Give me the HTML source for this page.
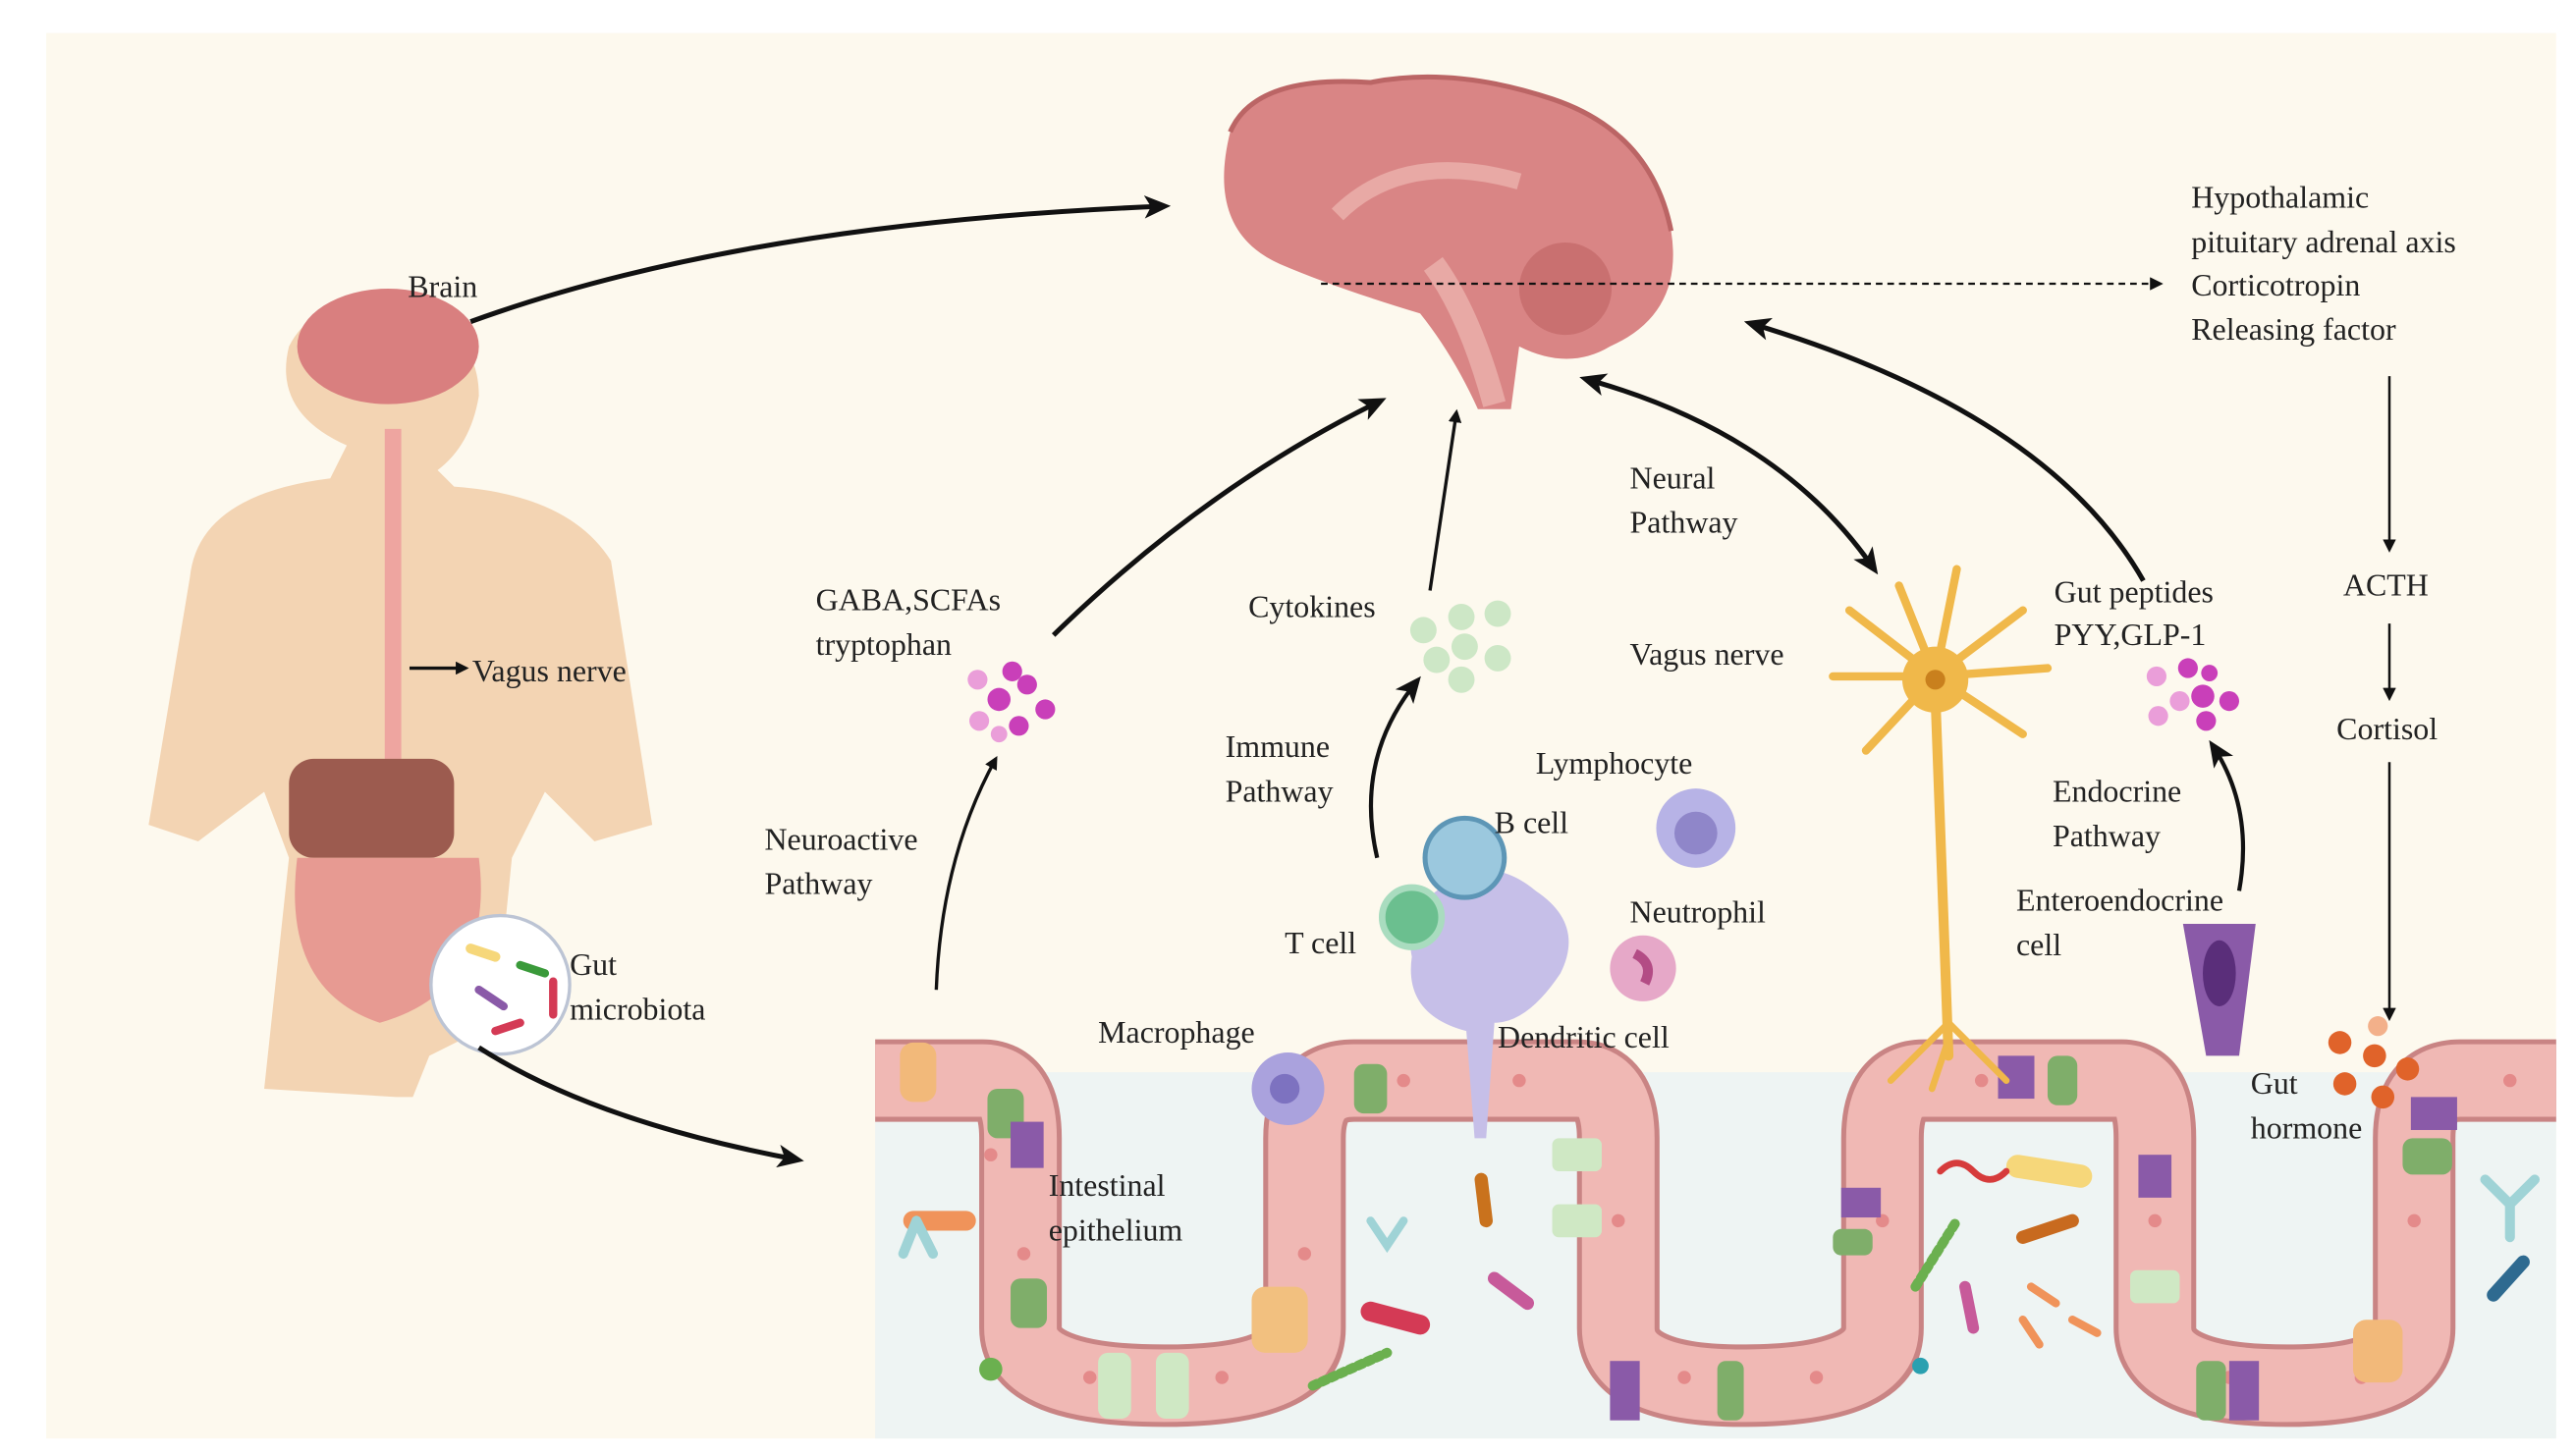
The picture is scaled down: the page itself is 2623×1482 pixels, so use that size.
<!DOCTYPE html>
<html><head><meta charset="utf-8"><style>
html,body{margin:0;padding:0;background:#fff;}
svg{display:block;}
text{font-family:"Liberation Serif",serif;font-size:19px;fill:#222;}
</style></head><body>
<svg width="2623" height="1482" viewBox="0 0 1560 882" preserveAspectRatio="none" xmlns="http://www.w3.org/2000/svg">
<defs>
<marker id="ah" markerWidth="8" markerHeight="8" refX="6" refY="4" orient="auto" markerUnits="userSpaceOnUse"><path d="M0,0 L8,4 L0,8 Z" fill="#111"/></marker>
<marker id="ab" markerWidth="16" markerHeight="14" refX="12" refY="7" orient="auto" markerUnits="userSpaceOnUse"><path d="M0,0 L16,7 L0,14 L4,7 Z" fill="#111"/></marker>
<marker id="abs" markerWidth="16" markerHeight="14" refX="4" refY="7" orient="auto-start-reverse" markerUnits="userSpaceOnUse"><path d="M0,0 L16,7 L0,14 L4,7 Z" fill="#111"/></marker>
</defs>
<rect x="28" y="20" width="1520" height="852" fill="#fdf9ee"/>
<rect x="530" y="650" width="1018" height="222" fill="#eef4f3"/>
<path d="M530,655 L595,655 Q618,655 618,690 L618,805 Q618,840 705,840 Q790,840 790,805 L790,690 Q790,655 820,655 L955,655 Q980,655 980,690 L980,805 Q980,840 1055,840 Q1140,840 1140,805 L1140,690 Q1140,655 1165,655 L1285,655 Q1305,655 1305,690 L1305,805 Q1305,840 1385,840 Q1462,840 1462,805 L1462,690 Q1462,655 1490,655 L1548,655" fill="none" stroke="#c98484" stroke-width="50"/>
<path d="M530,655 L595,655 Q618,655 618,690 L618,805 Q618,840 705,840 Q790,840 790,805 L790,690 Q790,655 820,655 L955,655 Q980,655 980,690 L980,805 Q980,840 1055,840 Q1140,840 1140,805 L1140,690 Q1140,655 1165,655 L1285,655 Q1305,655 1305,690 L1305,805 Q1305,840 1385,840 Q1462,840 1462,805 L1462,690 Q1462,655 1490,655 L1548,655" fill="none" stroke="#f0b8b4" stroke-width="44"/>
<g fill="#e48a8a">
<circle cx="560" cy="660" r="4"/><circle cx="600" cy="700" r="4"/><circle cx="620" cy="760" r="4"/><circle cx="660" cy="835" r="4"/><circle cx="740" cy="835" r="4"/><circle cx="790" cy="760" r="4"/><circle cx="850" cy="655" r="4"/><circle cx="920" cy="655" r="4"/><circle cx="980" cy="740" r="4"/><circle cx="1020" cy="835" r="4"/><circle cx="1100" cy="835" r="4"/><circle cx="1140" cy="740" r="4"/><circle cx="1200" cy="655" r="4"/><circle cx="1305" cy="740" r="4"/><circle cx="1350" cy="835" r="4"/><circle cx="1430" cy="835" r="4"/><circle cx="1462" cy="740" r="4"/><circle cx="1520" cy="655" r="4"/>
</g>
<g>
<rect x="598" y="660" width="22" height="30" rx="6" fill="#7fae6a"/><rect x="612" y="775" width="22" height="30" rx="6" fill="#7fae6a"/>
<rect x="820" y="645" width="20" height="30" rx="6" fill="#7fae6a"/><rect x="612" y="680" width="20" height="28" fill="#8a5aa8"/>
<rect x="940" y="690" width="30" height="20" rx="4" fill="#cfe8c4"/><rect x="940" y="730" width="30" height="20" rx="4" fill="#cfe8c4"/>
<rect x="1240" y="640" width="18" height="30" rx="6" fill="#7fae6a"/><rect x="1210" y="640" width="22" height="26" fill="#8a5aa8"/>
<rect x="1290" y="770" width="30" height="20" rx="4" fill="#cfe8c4"/><rect x="1295" y="700" width="20" height="26" fill="#8a5aa8"/>
<rect x="1460" y="665" width="28" height="20" fill="#8a5aa8"/><rect x="1455" y="690" width="30" height="22" rx="6" fill="#7fae6a"/>
<rect x="1115" y="720" width="24" height="18" fill="#8a5aa8"/><rect x="1110" y="745" width="24" height="16" rx="5" fill="#7fae6a"/>
<rect x="545" y="632" width="22" height="36" rx="8" fill="#f2b97a"/><rect x="1425" y="800" width="30" height="38" rx="8" fill="#f2b97a"/><rect x="758" y="780" width="34" height="40" rx="8" fill="#f2c07f"/>
<rect x="665" y="820" width="20" height="40" rx="6" fill="#cfe8c4"/><rect x="700" y="820" width="20" height="40" rx="6" fill="#cfe8c4"/>
<rect x="975" y="825" width="18" height="36" fill="#8a5aa8"/><rect x="1040" y="825" width="16" height="36" rx="5" fill="#7fae6a"/>
<rect x="1330" y="825" width="18" height="36" rx="5" fill="#7fae6a"/><rect x="1350" y="825" width="18" height="36" fill="#8a5aa8"/>
</g>
<g stroke-linecap="round" fill="none">
<line x1="553" y1="740" x2="585" y2="740" stroke="#f0935a" stroke-width="12"/>
<line x1="830" y1="795" x2="860" y2="803" stroke="#d43a55" stroke-width="12"/>
<line x1="897" y1="715" x2="900" y2="740" stroke="#c9721d" stroke-width="8"/>
<line x1="1222" y1="707" x2="1260" y2="713" stroke="#f6d77a" stroke-width="14"/>
<line x1="1225" y1="750" x2="1255" y2="740" stroke="#c86a1f" stroke-width="8"/>
<line x1="1160" y1="780" x2="1185" y2="740" stroke="#6bb04f" stroke-width="6" stroke-dasharray="3 3"/>
<line x1="795" y1="840" x2="840" y2="820" stroke="#6bb04f" stroke-width="6" stroke-dasharray="3 3"/>
<line x1="1510" y1="785" x2="1528" y2="765" stroke="#2e6a90" stroke-width="8"/>
<path d="M1175,710 q10,-10 20,0 t20,0" stroke="#d63b3b" stroke-width="4"/>
<line x1="905" y1="775" x2="925" y2="790" stroke="#c75a9a" stroke-width="8"/>
<line x1="1190" y1="780" x2="1195" y2="805" stroke="#c75a9a" stroke-width="7"/>
<line x1="1230" y1="780" x2="1245" y2="790" stroke="#f0935a" stroke-width="5"/><line x1="1225" y1="800" x2="1235" y2="815" stroke="#f0935a" stroke-width="5"/><line x1="1255" y1="800" x2="1270" y2="808" stroke="#f0935a" stroke-width="5"/>
<path d="M555,740 l10,20 m-10,-20 l-8,20" stroke="#9fd3d6" stroke-width="6"/>
<path d="M1505,715 l15,15 l15,-15 m-15,15 v20" stroke="#9fd3d6" stroke-width="6"/>
<path d="M830,740 l10,15 l10,-15" stroke="#9fd3d6" stroke-width="5"/>
</g>
<circle cx="600" cy="830" r="7" fill="#6bb04f"/>
<circle cx="1163" cy="828" r="5" fill="#2aa0b0"/>
<path d="M745,80 Q760,45 830,50 Q880,40 940,60 Q1000,80 1012,140 Q1020,190 975,210 Q950,225 920,210 L915,248 L895,248 Q880,215 860,190 Q810,175 775,160 Q730,140 745,80 Z" fill="#d98585"/>
<path d="M745,80 Q760,45 830,50 Q880,40 940,60 Q1000,80 1012,140" fill="none" stroke="#bb6565" stroke-width="3"/>
<path d="M810,130 Q850,90 920,110" fill="none" stroke="#e8a9a5" stroke-width="10"/>
<circle cx="948" cy="175" r="28" fill="#c97070"/>
<path d="M868,160 Q890,190 905,245" fill="none" stroke="#e8a9a5" stroke-width="14"/>
<path d="M160,660 L175,520 L160,480 L120,510 L90,500 L115,350 Q120,300 200,290 L210,270 Q165,250 175,210 Q190,180 235,185 Q290,195 290,240 Q285,270 265,285 L275,295 Q345,300 370,340 L395,500 L360,510 L330,480 L310,520 L300,620 L260,640 L250,665 L240,665 Z" fill="#f3d4b3"/>
<ellipse cx="235" cy="210" rx="55" ry="35" fill="#d97f7f"/>
<rect x="233" y="260" width="10" height="200" fill="#eea5a0"/>
<rect x="175" y="460" width="100" height="60" rx="15" fill="#9c5b4f"/>
<path d="M180,520 Q170,600 230,620 Q300,600 290,520 Z" fill="#e79a92"/>
<circle cx="303" cy="597" r="42" fill="#fff" stroke="#bcc4d4" stroke-width="2"/>
<g stroke-linecap="round"><line x1="285" y1="575" x2="300" y2="580" stroke="#f6d77a" stroke-width="6"/><line x1="290" y1="600" x2="305" y2="610" stroke="#8a5aa8" stroke-width="5"/><line x1="315" y1="585" x2="330" y2="590" stroke="#3a9a3a" stroke-width="5"/><line x1="300" y1="625" x2="315" y2="620" stroke="#d43a55" stroke-width="5"/><line x1="335" y1="595" x2="335" y2="615" stroke="#d43a55" stroke-width="5"/></g>
<g stroke="#f0b84a" fill="none" stroke-linecap="round">
<path d="M1172,420 L1180,640" stroke-width="6"/>
<path d="M1172,410 L1120,370 M1172,410 L1110,410 M1172,410 L1130,455 M1172,410 L1150,355 M1172,410 L1185,345 M1172,410 L1225,370 M1172,410 L1240,405 M1172,410 L1225,445" stroke-width="5"/>
<path d="M1180,620 L1145,655 M1180,620 L1215,655 M1180,630 L1170,660" stroke-width="4"/>
</g>
<circle cx="1172" cy="412" r="20" fill="#f0b84a"/><circle cx="1172" cy="412" r="6" fill="#c9801d"/>
<path d="M870,540 Q900,515 930,540 Q960,560 945,590 Q925,620 905,620 L900,690 L893,690 L888,625 Q850,615 855,580 Q850,555 870,540 Z" fill="#c6bfe8"/>
<circle cx="887" cy="520" r="24" fill="#9bc8de" stroke="#5d96b6" stroke-width="3"/>
<circle cx="855" cy="556" r="18" fill="#6bbf8f" stroke="#a9dcbf" stroke-width="4"/>
<circle cx="1027" cy="502" r="24" fill="#b7b3e6"/><circle cx="1027" cy="505" r="13" fill="#8f86c9"/>
<circle cx="995" cy="587" r="20" fill="#e6a8c8"/><path d="M990,578 q12,6 6,18" stroke="#b34c85" stroke-width="6" fill="none"/>
<circle cx="780" cy="660" r="22" fill="#aaa2dd"/><circle cx="778" cy="660" r="9" fill="#7d72c0"/>
<path d="M1322,560 L1366,560 L1356,640 L1336,640 Z" fill="#8a5aa8"/><ellipse cx="1344" cy="590" rx="10" ry="20" fill="#5a2e7a"/>
<g fill="#c93fb9"><circle cx="605" cy="424" r="7"/><circle cx="622" cy="415" r="6"/><circle cx="633" cy="430" r="6"/><circle cx="617" cy="440" r="6"/><circle cx="613" cy="407" r="6"/></g>
<g fill="#ea9ed9"><circle cx="592" cy="412" r="6"/><circle cx="593" cy="437" r="6"/><circle cx="605" cy="445" r="5"/></g>
<g fill="#c93fb9"><circle cx="1334" cy="422" r="7"/><circle cx="1350" cy="425" r="6"/><circle cx="1336" cy="437" r="6"/><circle cx="1325" cy="405" r="6"/><circle cx="1338" cy="408" r="5"/></g>
<g fill="#ea9ed9"><circle cx="1306" cy="410" r="6"/><circle cx="1307" cy="434" r="6"/><circle cx="1320" cy="425" r="6"/></g>
<g fill="#cde7c6"><circle cx="862" cy="382" r="8"/><circle cx="885" cy="374" r="8"/><circle cx="907" cy="372" r="8"/><circle cx="870" cy="400" r="8"/><circle cx="887" cy="392" r="8"/><circle cx="907" cy="399" r="8"/><circle cx="885" cy="412" r="8"/></g>
<g fill="#e0632a"><circle cx="1417" cy="632" r="7"/><circle cx="1438" cy="640" r="7"/><circle cx="1458" cy="648" r="7"/><circle cx="1420" cy="657" r="7"/><circle cx="1443" cy="665" r="7"/></g>
<circle cx="1440" cy="622" r="6" fill="#f3b08a"/>
<g fill="none" stroke="#111">
<path d="M285,195 Q450,135 705,125" stroke-width="3" marker-end="url(#ab)"/>
<path d="M290,635 Q360,680 483,703" stroke-width="3" marker-end="url(#ab)"/>
<path d="M638,385 Q730,295 836,243" stroke-width="3" marker-end="url(#ab)"/>
<path d="M567,600 Q570,520 603,460" stroke-width="2" marker-end="url(#ah)"/>
<path d="M866,358 L882,250" stroke-width="2" marker-end="url(#ah)"/>
<path d="M834,520 Q820,460 858,413" stroke-width="2.5" marker-end="url(#ab)"/>
<path d="M968,232 Q1080,265 1135,345" stroke-width="3" marker-start="url(#abs)" marker-end="url(#ab)"/>
<path d="M1298,352 Q1240,250 1060,196" stroke-width="3" marker-end="url(#ab)"/>
<path d="M1356,540 Q1365,490 1340,452" stroke-width="2.5" marker-end="url(#ab)"/>
<path d="M800,172 L1308,172" stroke-width="1.3" stroke-dasharray="4 3" marker-end="url(#ah)"/>
<path d="M1447,228 L1447,333" stroke-width="1.5" marker-end="url(#ah)"/>
<path d="M1447,378 L1447,423" stroke-width="1.5" marker-end="url(#ah)"/>
<path d="M1447,462 L1447,617" stroke-width="1.5" marker-end="url(#ah)"/>
<path d="M248,405 L282,405" stroke-width="2" marker-end="url(#ah)"/>
</g>
<g font-family="Liberation Serif" font-size="19">
<text x="247" y="180">Brain</text>
<text x="286" y="413">Vagus nerve</text>
<text x="345" y="591">Gut</text><text x="345" y="618">microbiota</text>
<text x="494" y="370">GABA,SCFAs</text><text x="494" y="397">tryptophan</text>
<text x="463" y="515">Neuroactive</text><text x="463" y="542">Pathway</text>
<text x="756" y="374">Cytokines</text>
<text x="742" y="459">Immune</text><text x="742" y="486">Pathway</text>
<text x="930" y="469">Lymphocyte</text>
<text x="905" y="505">B cell</text>
<text x="987" y="559">Neutrophil</text>
<text x="778" y="578">T cell</text>
<text x="665" y="632">Macrophage</text>
<text x="907" y="635">Dendritic cell</text>
<text x="635" y="725">Intestinal</text><text x="635" y="752">epithelium</text>
<text x="987" y="296">Neural</text><text x="987" y="323">Pathway</text>
<text x="987" y="403">Vagus nerve</text>
<text x="1244" y="365">Gut peptides</text><text x="1244" y="391">PYY,GLP-1</text>
<text x="1243" y="486">Endocrine</text><text x="1243" y="513">Pathway</text>
<text x="1221" y="552">Enteroendocrine</text><text x="1221" y="579">cell</text>
<text x="1327" y="126">Hypothalamic</text>
<text x="1327" y="153">pituitary adrenal  axis</text>
<text x="1327" y="179">Corticotropin</text>
<text x="1327" y="206">Releasing factor</text>
<text x="1419" y="361">ACTH</text>
<text x="1415" y="448">Cortisol</text>
<text x="1363" y="663">Gut</text><text x="1363" y="690">hormone</text>
</g>
</svg>
</body></html>
